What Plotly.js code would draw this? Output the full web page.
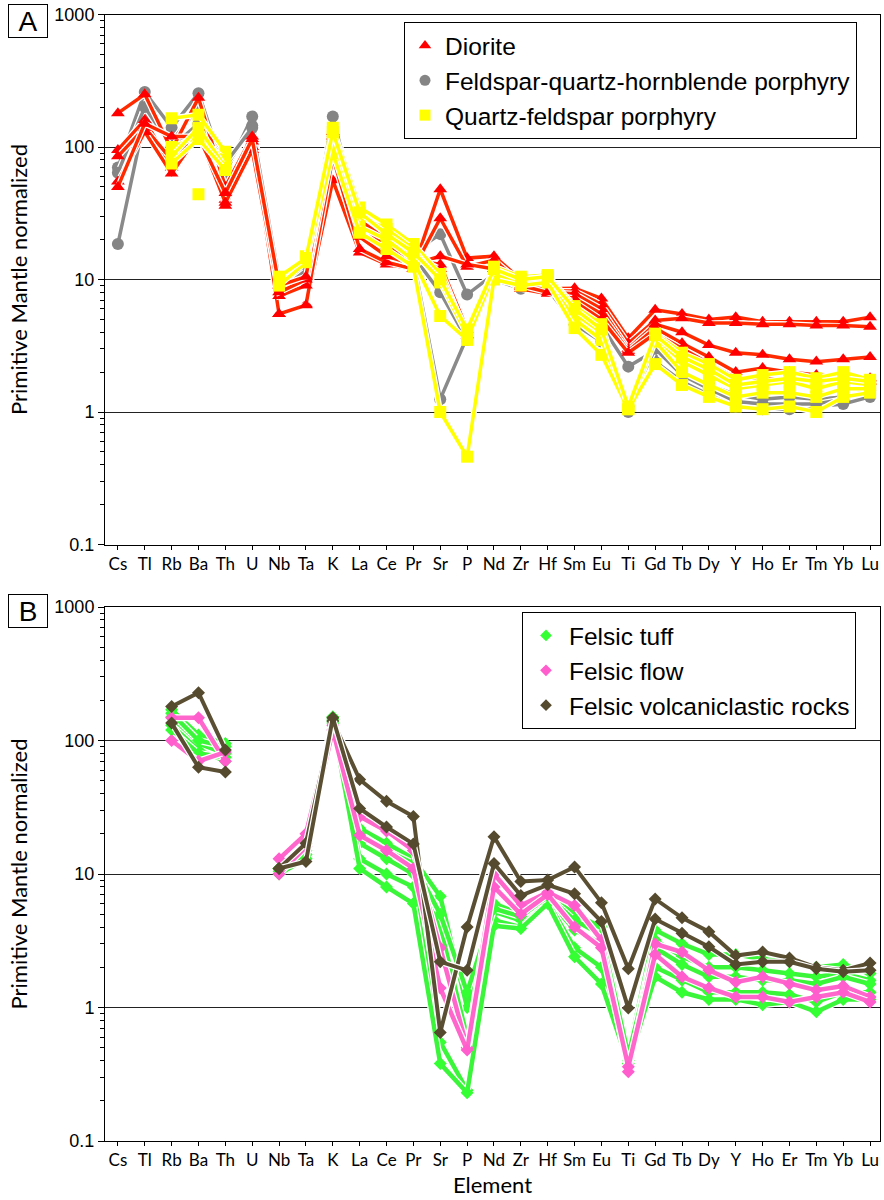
<!DOCTYPE html>
<html>
<head>
<meta charset="utf-8">
<script src="https://cdn.plot.ly/plotly-3.0.1.min.js"></script>
<style>html,body{margin:0;padding:0;background:#fff;}#chart{width:884px;height:1200px;}</style>
</head>
<body>
<div id="chart"></div>
<script>
// ---------------- DATA ----------------
const elements = ["Cs","Tl","Rb","Ba","Th","U","Nb","Ta","K","La","Ce","Pr","Sr","P","Nd","Zr","Hf","Sm","Eu","Ti","Gd","Tb","Dy","Y","Ho","Er","Tm","Yb","Lu"];
const yTickVals = [0.1, 1, 10, 100, 1000];
const yTickText = ["0.1", "1", "10", "100", "1000"];

// Panel A - Diorite
const diorite1 = [180,250,95,235,50,120,5.5,6.5,56,16,13,12,48,14.5,15,10,8.5,8.6,7.2,3.6,5.9,5.5,5.0,5.2,4.8,4.8,4.8,4.8,5.2];
const diorite2 = [95,160,70,140,40,110,5.5,6.4,84,17,13.5,12,29,12.5,14,9.5,8.2,8.2,6.5,3.3,4.9,5.1,4.7,4.7,4.6,4.6,4.5,4.5,4.4];
const diorite3 = [85,140,80,130,36,100,7.5,9,100,21,15,13,15,13,12,8.8,8,7.8,6.0,3.0,4.6,4.0,3.2,2.8,2.7,2.5,2.4,2.5,2.6];
const diorite4 = [55,130,63,125,38,95,8,10,120,26,18,14,13,4.2,11,8.5,7.8,7.2,5.5,2.9,4.3,3.3,2.6,2.0,2.15,2.0,1.9,1.85,1.8];
const diorite5 = [50,150,120,120,45,115,9,10.5,130,28,20,15,12,3.8,10.5,9,8,6.8,5.0,2.8,3.9,3.0,2.3,1.8,1.8,1.75,1.7,1.7,1.7];
// Panel A - Feldspar-quartz-hornblende porphyry
const fqhp1 = [70,260,140,255,63,170,8,12,170,27,20,16,22,7.7,11,9,9,5.5,4.5,2.2,2.9,2.0,1.6,1.35,1.25,1.3,1.25,1.3,1.45];
const fqhp2 = [18.5,165,110,200,70,145,9,13,120,24,18,14,1.25,3.7,10,8.5,8.5,4.6,3.4,1.0,2.4,1.7,1.35,1.1,1.05,1.05,1.1,1.15,1.3];
const fqhp3 = [64,200,100,150,75,140,10,13.5,110,25,19,15,8,3.5,11,9,9,5,3.8,1.1,3.0,1.9,1.5,1.2,1.15,1.15,1.15,1.25,1.5];
// Panel A - Quartz-feldspar porphyry
const qfp1 = [null,null,165,175,92,null,10,15,140,35,26,18.5,11,4.0,12.5,10.5,10.8,6.3,4.6,1.1,3.9,2.8,2.3,1.75,1.9,2.0,1.8,2.0,1.75];
const qfp2 = [null,null,100,120,80,null,9.5,14,120,30,24,17,9.5,3.8,12,10,10.5,5.5,4.0,1.08,3.6,2.4,1.9,1.5,1.6,1.7,1.5,1.7,1.6];
const qfp3 = [null,null,85,140,70,null,10,14.5,100,25,20,14,5.3,3.5,11,9.5,10,5,3.5,1.05,3.4,2.0,1.6,1.3,1.4,1.4,1.3,1.5,1.5];
const qfp4 = [null,null,75,115,67,null,9,13.5,90,22.5,17,12.5,1.0,0.46,10,9,9.5,4.3,2.7,1.05,2.3,1.6,1.3,1.1,1.05,1.1,1.0,1.3,1.4];
const qfp5 = [null,null,null,44,null,null,10.5,14.5,130,32,22,16,10,4.2,12,10,10.5,6,4.2,1.1,3.8,2.6,2.1,1.6,1.7,1.8,1.7,1.8,1.7];

// Panel B - Felsic tuff
const tuff1 = [null,null,170,110,95,null,11,15,150,22,17,13,6.8,1.0,6,5,7,5,4,0.45,3.8,3.0,2.5,2.5,2.3,2.2,2.0,2.1,1.8];
const tuff2 = [null,null,150,95,80,null,11,14,145,17,13,10,4,0.6,5.2,4.5,6.5,3.8,3.0,0.42,3.2,2.4,2.0,2.0,1.9,1.8,1.7,1.8,1.6];
const tuff3 = [null,null,130,85,70,null,10.5,13,140,13,10,8,0.55,0.24,4.5,4.0,6.2,2.8,2.0,0.40,2.0,1.6,1.3,1.3,1.3,1.25,1.1,1.3,1.3];
const tuff4 = [null,null,120,80,75,null,10,13,135,11,8,6,0.38,0.23,4.1,3.9,6,2.4,1.5,0.38,1.7,1.3,1.15,1.15,1.05,1.1,0.93,1.15,1.15];
const tuff5 = [null,null,160,100,90,null,11,14,150,20,15,12,5,1.3,5.5,4.8,6.8,4.5,3.5,0.44,2.8,2.1,1.7,1.7,1.6,1.6,1.5,1.7,1.5];
// Panel B - Felsic flow
const flow1 = [null,null,148,148,70,null,13,20,130,27,21,15,2.8,0.5,10,5.8,7.3,5.8,3.2,0.33,3.0,2.6,1.9,1.55,1.7,1.5,1.35,1.45,1.2];
const flow2 = [null,null,100,70,82,null,10,16,120,19.5,15,11,1.4,0.48,8,5,7,4.0,2.8,0.36,2.5,1.7,1.4,1.2,1.2,1.1,1.2,1.3,1.1];
// Panel B - Felsic volcaniclastic rocks
const volc1 = [null,null,180,228,85,null,11,17,140,51,35,27,0.65,4.0,19,8.8,9,11.3,6.1,1.95,6.5,4.7,3.7,2.45,2.6,2.35,2.0,1.9,2.15];
const volc2 = [null,null,135,63,58,null,11,12.4,148,31,22.5,16.8,2.2,1.9,12,6.9,8.3,7.1,4.4,0.99,4.6,3.6,2.85,2.1,2.2,2.2,1.95,1.85,1.9];

// ---------------- STYLE / GROUPS ----------------
const groupsA = [
  {name:"Feldspar-quartz-hornblende porphyry", samples:[fqhp1,fqhp2,fqhp3], color:"#858585", line:"#8a8a8a", symbol:"circle", size:12, lw:3.5, order:1},
  {name:"Diorite", samples:[diorite1,diorite2,diorite3,diorite4,diorite5], color:"#ff0000", line:"#ff2a00", symbol:"triangle-up", size:12, lw:3.5, order:0},
  {name:"Quartz-feldspar porphyry", samples:[qfp1,qfp2,qfp3,qfp4,qfp5], color:"#ffff00", line:"#ffff00", symbol:"square", size:12, lw:3.5, order:2}
];
const groupsB = [
  {name:"Felsic tuff", samples:[tuff1,tuff2,tuff3,tuff4,tuff5], color:"#33ff33", line:"#3af53a", symbol:"diamond", size:10, lw:4.5, order:0},
  {name:"Felsic flow", samples:[flow1,flow2], color:"#ff5ccd", line:"#ff66cc", symbol:"diamond", size:10, lw:4.5, order:1},
  {name:"Felsic volcaniclastic rocks", samples:[volc1,volc2], color:"#554a2e", line:"#5a4e33", symbol:"diamond", size:10, lw:4, order:2}
];

const traces = [];
function addGroups(groups, xa, ya, legendId, prefix) {
  groups.forEach(g => {
    g.samples.forEach((vals) => {
      traces.push({x: elements, y: vals, xaxis: xa, yaxis: ya, type: "scatter", mode: "lines",
        line: {color: "#ffffff", width: g.lw + 2.5}, hoverinfo: "skip", showlegend: false, connectgaps: false});
      traces.push({x: elements, y: vals, xaxis: xa, yaxis: ya, type: "scatter", mode: "lines+markers",
        name: g.name, legendgroup: prefix + g.name, showlegend: false, connectgaps: false,
        line: {color: g.line, width: g.lw}, marker: {symbol: g.symbol, size: g.size, color: g.color}});
    });
  });
  // legend entries (marker only, no drawn points)
  groups.slice().sort((a,b)=>a.order-b.order).forEach(g => {
    traces.push({x: [elements[0]], y: [null], xaxis: xa, yaxis: ya, type: "scatter", mode: "markers",
      name: g.name, legendgroup: prefix + g.name, legend: legendId, showlegend: true,
      marker: {symbol: g.symbol, size: g.symbol === "diamond" ? 9 : 11, color: g.color}});
  });
}
addGroups(groupsA, "x", "y", "legend", "A_");
addGroups(groupsB, "x2", "y2", "legend2", "B_");

const H = 1200, W = 884, L = 105, R = 4;
const pw = W - L - R;
function dom(topPx, botPx) { return [1 - botPx / H, 1 - topPx / H]; }

const xBase = {
  type: "category", categoryorder: "array", categoryarray: elements,
  range: [-0.48, 28.37], showgrid: false, zeroline: false,
  showline: true, mirror: true, linecolor: "#000", linewidth: 1,
  ticks: "outside", ticklen: 4, tickcolor: "#000",
  tickfont: {family: "Lato, 'Noto Sans', sans-serif", size: 17, color: "#000"},
  tickangle: 0, automargin: false
};
const yBase = {
  type: "log", range: [-1, 3], tickmode: "array", tickvals: yTickVals, ticktext: yTickText,
  showgrid: true, gridcolor: "#222", gridwidth: 1, zeroline: false,
  showline: true, mirror: true, linecolor: "#000", linewidth: 1,
  ticks: "outside", ticklen: 6, tickcolor: "#000",
  minor: {ticks: "outside", ticklen: 4, tickcolor: "#000", dtick: "D1", showgrid: false},
  tickfont: {family: "'Liberation Sans', Arial, sans-serif", size: 18, color: "#000"},
  title: {text: "Primitive Mantle normalized", font: {family: "Lato, 'Noto Sans', sans-serif", size: 22, color: "#000"}, standoff: 20},
  automargin: false
};

const legendFont = {family: "'Liberation Sans', Arial, sans-serif", size: 24.5, color: "#000"};

const layout = {
  width: W, height: H,
  margin: {l: L, r: R, t: 0, b: 0},
  paper_bgcolor: "#fff", plot_bgcolor: "#fff",
  showlegend: true,
  xaxis: Object.assign({}, xBase, {domain: [0, 1], anchor: "y"}),
  yaxis: Object.assign({}, yBase, {domain: dom(14.5, 544.5), anchor: "x"}),
  xaxis2: Object.assign({}, xBase, {domain: [0, 1], anchor: "y2",
    title: {text: "Element", font: {family: "Lato, 'Noto Sans', sans-serif", size: 22, color: "#000"}, standoff: 8}}),
  yaxis2: Object.assign({}, yBase, {domain: dom(607, 1141), anchor: "x2"}),
  legend: {
    x: (857 - L) / pw, xanchor: "right", y: 1 - 22 / H, yanchor: "top",
    bgcolor: "#fff", bordercolor: "#000", borderwidth: 1,
    font: legendFont, tracegroupgap: 0, itemclick: false, itemdoubleclick: false
  },
  legend2: {
    x: (856 - L) / pw, xanchor: "right", y: 1 - 612 / H, yanchor: "top",
    bgcolor: "#fff", bordercolor: "#000", borderwidth: 1, itemwidth: 36,
    font: legendFont, tracegroupgap: 0, itemclick: false, itemdoubleclick: false
  },
  annotations: [
    {text: "A", xref: "paper", yref: "paper", x: (8 - L) / pw, y: 1 - 4 / H, xanchor: "left", yanchor: "top",
     showarrow: false, font: {family: "'Liberation Sans', Arial, sans-serif", size: 28, color: "#000"},
     width: 36, height: 30, align: "center", valign: "middle",
     bordercolor: "#000", borderwidth: 1, borderpad: 1, bgcolor: "#fff"},
    {text: "B", xref: "paper", yref: "paper", x: (8 - L) / pw, y: 1 - 594 / H, xanchor: "left", yanchor: "top",
     showarrow: false, font: {family: "'Liberation Sans', Arial, sans-serif", size: 28, color: "#000"},
     width: 36, height: 30, align: "center", valign: "middle",
     bordercolor: "#000", borderwidth: 1, borderpad: 1, bgcolor: "#fff"}
  ]
};

Plotly.newPlot("chart", traces, layout, {displayModeBar: false, staticPlot: true});
</script>
</body>
</html>
